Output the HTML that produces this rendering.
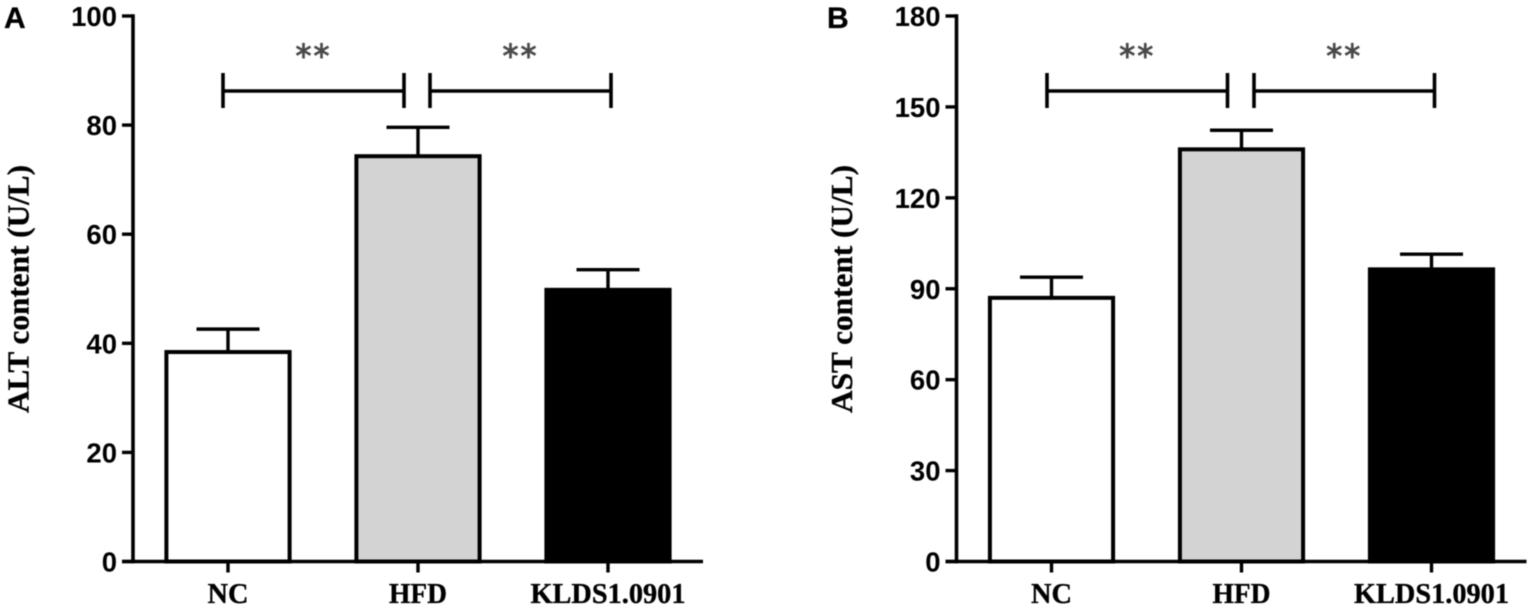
<!DOCTYPE html>
<html lang="en">
<head>
<meta charset="utf-8">
<title>ALT and AST content</title>
<style>
html,body{margin:0;padding:0;background:#fff;width:1535px;height:610px;overflow:hidden}
svg{display:block;filter:blur(0.45px)}
.tick{font:bold 27.5px "Liberation Sans",sans-serif;fill:#000}
.serif{font:bold 29px "Liberation Serif",serif;fill:#000;stroke:#000;stroke-width:.35px}
.panel{font:bold 30px "Liberation Sans",sans-serif;fill:#000;stroke:#000;stroke-width:.3px}
.stars{font:32px "DejaVu Sans",sans-serif;fill:#4a4a4a;stroke:#4a4a4a;stroke-width:.9px}
</style>
</head>
<body>
<svg id="chart" width="1535" height="610" viewBox="0 0 1535 610" xmlns="http://www.w3.org/2000/svg"></svg>
<script>
const categories = ['NC', 'HFD', 'KLDS1.0901'];
const altValues = [38.4, 74.3, 49.8];
const altErrors = [4.2, 5.3, 3.7];
const astValues = [87.0, 136.0, 96.4];
const astErrors = [6.8, 6.3, 5.0];
const altTicks = [0, 20, 40, 60, 80, 100];
const astTicks = [0, 30, 60, 90, 120, 150, 180];
const sigLabels = ['**', '**'];
const barFills = ['#ffffff', '#d3d3d3', '#000000'];

const svg = document.getElementById('chart');
const NS = 'http://www.w3.org/2000/svg';

function make(parent, tag, attrs, text) {
  const el = document.createElementNS(NS, tag);
  for (const k in attrs) el.setAttribute(k, attrs[k]);
  if (text !== undefined) el.textContent = text;
  parent.appendChild(el);
  return el;
}

function drawLine(parent, name, x1, y1, x2, y2, w) {
  const el = make(parent, 'line', {x1: x1, y1: y1, x2: x2, y2: y2, stroke: '#000', 'stroke-width': w});
  
  
  return el;
}

function drawPanel(cfg) {
  const g = make(svg, 'g', {});
  
  

  const yTop = 16, yBase = 561.5;
  const maxTick = cfg.ticks[cfg.ticks.length - 1];
  const yScale = v => yBase - (v / maxTick) * (yBase - yTop);
  const xScale = i => cfg.x0 + 95 + i * 190;
  const barHalf = 61.6, capHalf = 31.5;

  const label = make(g, 'text', {class: 'panel', x: cfg.panelX, y: 28}, cfg.panel);
  
  

  const title = make(g, 'text', {
    class: 'serif', 'text-anchor': 'middle',
    textLength: 248, lengthAdjust: 'spacingAndGlyphs',
    transform: 'translate(' + (cfg.x0 - 104.5) + ',289) rotate(-90)',
    style: 'font-size:31px'
  }, cfg.title);
  
  

  cfg.values.forEach((v, i) => {
    const cx = xScale(i), top = yScale(v), errTop = yScale(v + cfg.errors[i]);
    drawLine(g, 'error-stem-' + categories[i].toLowerCase(), cx, errTop, cx, top, 3.4);
    drawLine(g, 'error-cap-' + categories[i].toLowerCase(), cx - capHalf, errTop, cx + capHalf, errTop, 3.4);
    const bar = make(g, 'rect', {
      x: cx - barHalf, y: top, width: barHalf * 2, height: yBase - top,
      fill: barFills[i], stroke: '#000', 'stroke-width': 4
    });
    
    
  });

  drawLine(g, 'y-axis', cfg.x0, yTop - 1.8, cfg.x0, yBase + 1.8, 3.6);
  drawLine(g, 'x-axis', cfg.x0 - 11, yBase, cfg.x0 + 570, yBase, 3.6);

  cfg.ticks.forEach(t => {
    const y = yScale(t);
    drawLine(g, 'y-tick-' + t, cfg.x0 - 11, y, cfg.x0, y, 3.4);
    const tl = make(g, 'text', {class: 'tick', x: cfg.x0 - 16, y: y + 10, 'text-anchor': 'end'}, String(t));
    
    
  });

  categories.forEach((c, i) => {
    const cx = xScale(i);
    drawLine(g, 'x-tick-' + c.toLowerCase(), cx, yBase, cx, yBase + 11, 3.4);
    const tl = make(g, 'text', {
      class: 'serif', x: cx, y: 603, 'text-anchor': 'middle',
      textLength: cfg.labelWidths[i], lengthAdjust: 'spacingAndGlyphs'
    }, c);
    
    
  });

  cfg.brackets.forEach((b, i) => {
    drawLine(g, 'significance-bracket-' + i, b[0], 91, b[1], 91, 3.6);
    drawLine(g, 'significance-bracket-left-end-' + i, b[0], 73, b[0], 108, 3.6);
    drawLine(g, 'significance-bracket-right-end-' + i, b[1], 73, b[1], 108, 3.6);
    const s = make(g, 'text', {class: 'stars', x: (b[0] + b[1]) / 2, y: 67, 'text-anchor': 'middle', 'letter-spacing': '2px'}, sigLabels[i]);
    
    
  });
}

drawPanel({
  key: 'alt', panel: 'A', panelX: 4, x0: 133, title: 'ALT content (U/L)',
  values: altValues, errors: altErrors, ticks: altTicks,
  labelWidths: [41, 58, 155],
  brackets: [[223, 404], [430, 611]]
});
drawPanel({
  key: 'ast', panel: 'B', panelX: 827, x0: 956.5, title: 'AST content (U/L)',
  values: astValues, errors: astErrors, ticks: astTicks,
  labelWidths: [41, 58, 155],
  brackets: [[1047, 1227.5], [1254, 1434.5]]
});
</script>
</body>
</html>
